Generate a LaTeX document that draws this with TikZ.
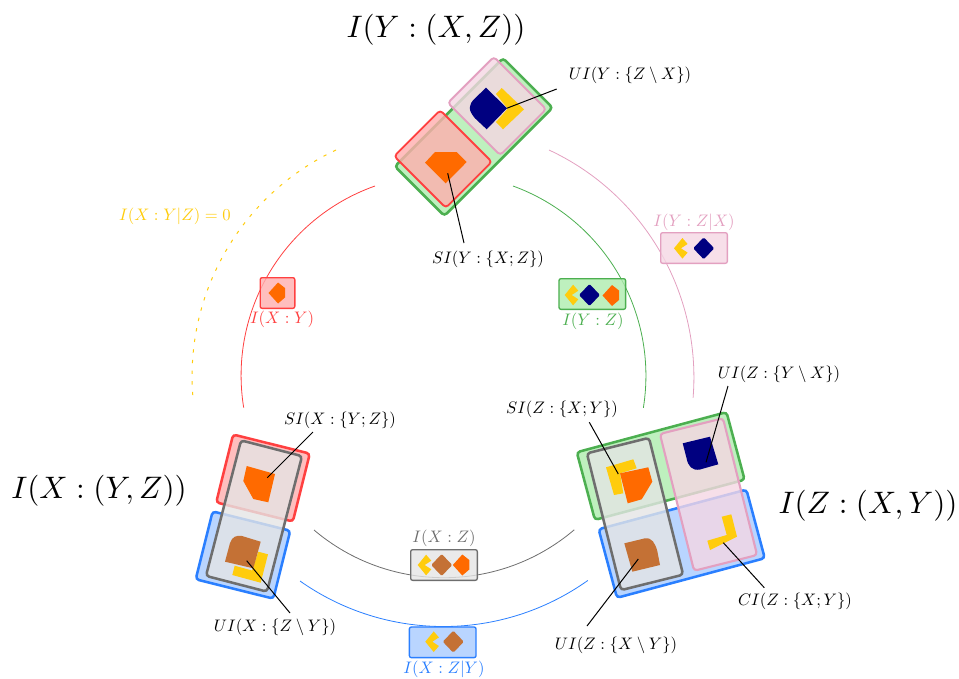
\documentclass[tikz,border=0pt]{standalone}
\definecolor{linegreen}{HTML}{4CAF50}
\definecolor{linered}{HTML}{FF4040}
\definecolor{linepink}{HTML}{E3A0C0}
\definecolor{linegray}{HTML}{6E6E6E}
\definecolor{lineblue}{HTML}{2A7FFF}
\definecolor{fillgreen}{RGB}{174,236,174}
\definecolor{fillred}{RGB}{255,174,174}
\definecolor{fillpink}{RGB}{245,215,228}
\definecolor{fillgray}{RGB}{229,229,229}
\definecolor{fillblue}{RGB}{167,202,255}
\definecolor{tokyellow}{HTML}{FFCC0D}
\definecolor{toknavy}{HTML}{000080}
\definecolor{tokorange}{HTML}{FF6A00}
\definecolor{tokbrown}{HTML}{C47135}
\tikzset{
  every picture/.style={line width=0.75pt},
  panel/.style={rectangle,inner sep=0pt,fill opacity=0.8,rounded corners=2.5pt},
  greenpanel/.style={panel,draw=linegreen,fill=fillgreen},
  redpanel/.style={panel,draw=linered,fill=fillred},
  pinkpanel/.style={panel,draw=linepink,fill=fillpink},
  graypanel/.style={panel,draw=linegray,fill=fillgray},
  bluepanel/.style={panel,draw=lineblue,fill=fillblue},
  bigpanel/.style n args={3}{line width=1.9pt,rotate=#1,minimum width=#2*0.75pt,minimum height=#3*0.75pt},
  smallpanel/.style={line width=1pt,rounded corners=1.5pt,minimum width=50pt,minimum height=23pt},
  info/.style={inner sep=0pt,scale=1.25},
  title/.style={inner sep=0pt,scale=2.33},
  leader/.style={line width=0.75pt,black},
  arcline/.style={line width=0.6pt},
  chevrontok/.pic={\fill[tokyellow] (-7,0) -- (1.4,-10.3) -- (6.6,-4.3) -- (0,0) -- (6.6,4.3) -- (1.4,10.3) -- cycle;},
  navytok/.pic={\fill[toknavy,rounded corners=1pt] (-10.5,0) -- (0,-11) -- (10.5,0) -- (0,11) -- cycle;},
  browntok/.pic={\fill[tokbrown,rounded corners=1pt] (-10.5,0) -- (0,-11) -- (10.5,0) -- (0,11) -- cycle;},
  orangetok/.pic={\fill[tokorange] (-9.5,0) -- (0,-10.5) -- (7,-4.5) -- (7,5) -- (0,10.5) -- cycle;},
}
\begin{document}
\begin{tikzpicture}[x=0.75pt,y=0.75pt,yscale=-1,xscale=1]
	\useasboundingbox (0,0) rectangle (959,678);

	%Arcs
	\draw [arcline,linered] (375,186) arc[start angle=-109.5,end angle=-189.2,radius=201];
	\draw [arcline,linegreen] (513,186) arc[start angle=-70,end angle=9.1,radius=202];
	\draw [arcline,linepink] (549,150) arc[start angle=-65,end angle=4.6,radius=251];
	\draw [arcline,tokyellow,line width=0.75pt,dash pattern={on 2.5pt off 5.5pt}] (336,150) arc[start angle=-115.1,end angle=-184.6,radius=250];
	\draw [arcline,linegray] (314,530) arc[start angle=130.3,end angle=49.6,radius=201];
	\draw [arcline,lineblue] (300,581) arc[start angle=125.2,end angle=54.6,radius=249];

	%Top panels
	\node (greenY) at (473.7,137) [greenpanel,bigpanel={45}{153}{70}] {};
	\node (pinkY) at (497,106) [pinkpanel,bigpanel={-45}{74}{65},line width=1.4pt] {};
	\node (redY) at (443,159) [redpanel,bigpanel={-45}{73}{65},line width=1.4pt] {};

	%Left panels
	\node (redX) at (263,478) [redpanel,bigpanel={-14}{79}{70}] {};
	\node (blueX) at (243,555) [bluepanel,bigpanel={-14}{80}{70}] {};
	\node (grayX) at (254,516) [graypanel,bigpanel={-14.5}{63}{140}] {};

	%Right panels
	\node (greenZ) at (660.7,466) [greenpanel,bigpanel={15}{155}{70}] {};
	\node (blueZ) at (681.7,543.7) [bluepanel,bigpanel={15}{153}{71}] {};
	\node (grayZ) at (635,514) [graypanel,bigpanel={14}{64}{141}] {};
	\node (pinkZ) at (708.5,494.5) [pinkpanel,bigpanel={14}{65}{141},line width=1.6pt] {};

	%Small panels
	\node (redXY) at (277.5,293) [redpanel,smallpanel,minimum width=26pt] {};
	\node (greenYZ) at (592.3,294) [greenpanel,smallpanel] {};
	\node (pinkYZ) at (694,248) [pinkpanel,smallpanel] {};
	\node (grayXZ) at (444,565) [graypanel,smallpanel] {};
	\node (blueXZ) at (442.7,642.3) [bluepanel,smallpanel] {};

	%Tokens in the small panels
	\pic at (278,293) {orangetok};
	\pic at (571.7,295) {chevrontok};
	\pic at (589.5,295) {navytok};
	\pic at (612,295.5) {orangetok};
	\pic at (681,248.3) {chevrontok};
	\pic at (703.7,248.3) {navytok};
	\pic at (424.7,565) {chevrontok};
	\pic at (441.7,565) {browntok};
	\pic at (462.3,565) {orangetok};
	\pic at (432.3,641.7) {chevrontok};
	\pic at (453.3,641.7) {browntok};

	%Tokens in the top panels
	\fill [tokyellow] (501.7,88) -- (524,109.3) -- (503,129.3) -- (496,122) -- (507.7,108.7) -- (496,94) -- cycle;
	\fill [toknavy] (486,87.7) -- (507,108.3) -- (486.7,129.3) -- (475,118.3) .. controls (468,110) and (468,105) .. (475,98.3) -- cycle;
	\fill [tokorange] (435,152) -- (456.7,152) -- (466.7,162) -- (445.7,183.3) -- (425,162.7) -- cycle;

	%Tokens in the left panels
	\fill [tokorange] (246.7,466) -- (275,474) -- (268.3,502.3) -- (253.3,499) -- (243.3,481) -- cycle;
	\fill [tokyellow] (258.3,551.7) -- (268,554.3) -- (260.7,582.7) -- (232.3,575) -- (234.7,565.7) -- (252,570.5) -- cycle;
	\fill [tokbrown] (260.7,541.7) -- (253.3,568.3) -- (225,561.7) -- (230,543) .. controls (232,537) and (236,535) .. (242,536) -- cycle;

	%Tokens in the right panels
	\fill [toknavy] (682.7,443.3) -- (710,436.7) -- (718.3,464.3) -- (700,469.5) .. controls (692,471) and (688,466) .. (686.5,458) -- cycle;
	\fill [tokyellow] (606,467.3) -- (633.3,459.3) -- (636.7,468.3) -- (620,473.3) -- (623.3,493.3) -- (614,495) -- cycle;
	\fill [tokorange] (620,473.3) -- (648.3,467.3) -- (652.3,481.7) -- (641.7,499.3) -- (627.7,503.3) -- cycle;
	\fill [tokbrown] (624.3,543.3) -- (645,538.3) .. controls (652,537.5) and (655,543) .. (657.3,551) -- (660,565) -- (632.3,571.7) -- cycle;
	\fill [tokyellow] (721.7,516.7) -- (731.3,514.3) -- (737,536.7) -- (710,550) -- (707.3,540.7) -- (726.7,535) -- cycle;

	% Text Node
	\node (titleY) at (436,30) [title] {\( I(Y:(X,Z)) \)};
	\node (titleX) at (99,491) [title] {\( I(X:(Y,Z)) \)};
	\node (titleZ) at (868,506) [title] {\( I(Z:(X,Y)) \)};
	% Text Node
	\node (labelXYgivenZ) at (175,216) [info,text=tokyellow] {\( I(X:Y|Z)=0 \)};
	\node (labelXY) at (282,319) [info,text=linered] {\( I(X:Y) \)};
	\node (labelYZ) at (593,321) [info,text=linegreen] {\( I(Y:Z) \)};
	\node (labelYZgivenX) at (694,222) [info,text=linepink] {\( I(Y:Z|X) \)};
	\node (labelXZ) at (444,538) [info,text=linegray] {\( I(X:Z) \)};
	\node (labelXZgivenY) at (444,669) [info,text=lineblue] {\( I(X:Z|Y) \)};
	% Text Node
	\node (uiY) at (630,75) [info] {\( UI(Y:\{Z\setminus X\}) \)};
	\node (siY) at (488,259) [info] {\( SI(Y:\{X;Z\}) \)};
	\node (siX) at (340,420) [info] {\( SI(X:\{Y;Z\}) \)};
	\node (uiX) at (275,627) [info] {\( UI(X:\{Z\setminus Y\}) \)};
	\node (siZ) at (562,409) [info] {\( SI(Z:\{X;Y\}) \)};
	\node (uiZy) at (779,374) [info] {\( UI(Z:\{Y\setminus X\}) \)};
	\node (uiZx) at (616,645) [info] {\( UI(Z:\{X\setminus Y\}) \)};
	\node (ciZ) at (795,601) [info] {\( CI(Z:\{X;Y\}) \)};

	%Leader ends
	\coordinate (uiYend) at (506.7,108.3);
	\coordinate (siYend) at (447.7,173.3);
	\coordinate (siXend) at (267.3,477.7);
	\coordinate (uiXend) at (246.7,560.7);
	\coordinate (siZend) at (618.3,474);
	\coordinate (uiZyend) at (706,462.3);
	\coordinate (uiZxend) at (638.3,559);
	\coordinate (ciZend) at (723.3,542.7);
	\coordinate (uiYstart) at (556.7,89);
	\coordinate (siYstart) at (464,243);
	\coordinate (siXstart) at (313,432);
	\coordinate (uiXstart) at (290,613);
	\coordinate (siZstart) at (589.3,422.3);
	\coordinate (uiZystart) at (728,386);
	\coordinate (uiZxstart) at (587,626);
	\coordinate (ciZstart) at (764.3,587.7);

	%Leaders
	\draw [leader] (uiYstart) -- (uiYend);
	\draw [leader] (siYstart) -- (siYend);
	\draw [leader] (siXstart) -- (siXend);
	\draw [leader] (uiXstart) -- (uiXend);
	\draw [leader] (siZstart) -- (siZend);
	\draw [leader] (uiZystart) -- (uiZyend);
	\draw [leader] (uiZxstart) -- (uiZxend);
	\draw [leader] (ciZstart) -- (ciZend);
\end{tikzpicture}
\end{document}
